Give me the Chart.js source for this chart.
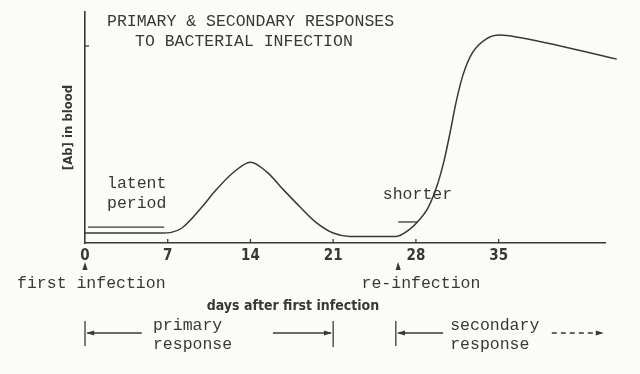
<!DOCTYPE html>
<html>
<head>
<meta charset="utf-8">
<script src="https://cdn.jsdelivr.net/npm/chart.js@4.4.1/dist/chart.umd.min.js"></script>
<style>
  html, body { margin: 0; padding: 0; background: #fbfbf7; }
  canvas { display: block; }
</style>
</head>
<body>
<canvas id="chart" width="640" height="374"></canvas>
<script>
// antibody level (0 = axis, 100 = top of the y axis)
var days  = [0, 6.5, 7.3, 8.2, 9.8, 11.1, 12.5, 14, 15.4, 16.8, 18.2, 19.6, 21, 22.4, 26.3, 27.5, 28.2, 29, 29.8, 30.4, 30.9, 31.4, 32, 32.8, 34, 35.1, 36.5, 45];
var level = [4.3, 4.3, 4.6, 6.5, 15, 23, 30.3, 35, 30.7, 23, 15.6, 8.7, 4.3, 2.8, 2.8, 6, 9.5, 15, 25, 36, 48, 61, 73, 82.5, 88.5, 90, 89.2, 79.6];
var dayTicks = [0, 7, 14, 21, 28, 35];
var levelTicks = [85.3];

var ink = '#383838';
var mono = '"Liberation Mono", "DejaVu Sans Mono", monospace';
var narrow = '"DejaVu Sans Condensed", "Liberation Sans Narrow", "Roboto", sans-serif';

// typed labels: left edge in days, vertical position in pixels
var notes = [
	{ text: 'PRIMARY & SECONDARY RESPONSES', day: 1.86, px: 22 },
	{ text: 'TO BACTERIAL INFECTION', day: 4.23, px: 42 },
	{ text: 'latent', day: 1.86, px: 184 },
	{ text: 'period', day: 1.86, px: 204 },
	{ text: 'shorter', day: 25.2, px: 195 },
	{ text: 'first infection', day: -5.75, px: 284 },
	{ text: 're-infection', day: 23.4, px: 284 },
	{ text: 'primary', day: 5.75, px: 326 },
	{ text: 'response', day: 5.75, px: 345 },
	{ text: 'secondary', day: 30.9, px: 326 },
	{ text: 'response', day: 30.9, px: 345 }
];

var annotate = {
	id: 'annotate',
	afterDraw: function(chart) {
		var c = chart.ctx;
		var xs = chart.scales.x, ys = chart.scales.y;
		var X = function(d) { return xs.getPixelForValue(d); };
		var Y = function(v) { return ys.getPixelForValue(v); };

		c.save();
		c.strokeStyle = ink;
		c.fillStyle = ink;
		c.lineWidth = 1.3;

		function seg(x1, y1, x2, y2) {
			c.beginPath(); c.moveTo(x1, y1); c.lineTo(x2, y2); c.stroke();
		}
		function head(x, y, dx, dy) {
			// filled narrow arrowhead, tip at x,y pointing along dx,dy
			var len = 8, w = 2.6;
			c.beginPath();
			c.moveTo(x, y);
			c.lineTo(x - dx * len - dy * w, y - dy * len - dx * w);
			c.lineTo(x - dx * len + dy * w, y - dy * len + dx * w);
			c.closePath(); c.fill();
		}

		// inward tick marks
		dayTicks.forEach(function(d) { if (d > 0) seg(X(d), Y(0), X(d), Y(0) - 4); });
		levelTicks.forEach(function(v) { seg(X(0), Y(v), X(0) + 4, Y(v)); });

		// latent period bar and the "shorter" dash
		seg(X(0.25), Y(6.9), X(6.7), Y(6.9));
		seg(X(26.5), Y(9.1), X(28.1), Y(9.1));

		// infection arrows
		[0, 26.5].forEach(function(d) {
			head(X(d), 262, 0, -1);
			seg(X(d), 266, X(d), 270);
		});

		// primary / secondary brackets
		seg(X(0), 321, X(0), 346);
		seg(X(4.8), 333, X(0.2), 333); head(X(0.1), 333, -1, 0);
		seg(X(15.9), 333, X(20.8), 333); head(X(20.9), 333, 1, 0);
		seg(X(21), 321, X(21), 347);
		seg(X(26.3), 321, X(26.3), 346);
		seg(X(30.3), 333, X(26.5), 333); head(X(26.4), 333, -1, 0);
		c.setLineDash([5, 4]);
		seg(X(39.5), 333, X(43.2), 333);
		c.setLineDash([]);
		head(X(43.9), 333, 1, 0);

		c.textBaseline = 'middle';
		c.textAlign = 'left';
		c.font = '16.5px ' + mono;
		notes.forEach(function(n) { c.fillText(n.text, X(n.day), n.px); });

		c.textAlign = 'center';
		c.font = 'bold 14px ' + narrow;
		c.fillText('days after first infection', X(17.6), 306);
		c.restore();
	}
};

new Chart(document.getElementById('chart'), {
	type: 'line',
	data: {
		datasets: [{
			data: days.map(function(d, i) { return { x: d, y: level[i] }; }),
			borderColor: ink,
			borderWidth: 1.5,
			pointRadius: 0,
			fill: false,
			cubicInterpolationMode: 'monotone',
			clip: false
		}]
	},
	options: {
		responsive: false,
		animation: false,
		layout: { padding: { left: 57, top: 12, right: 35, bottom: 101 } },
		plugins: {
			legend: { display: false },
			tooltip: { enabled: false }
		},
		scales: {
			x: {
				type: 'linear',
				min: 0,
				max: 44,
				afterBuildTicks: function(s) { s.ticks = dayTicks.map(function(v) { return { value: v }; }); },
				afterFit: function(s) { s.height = 30; },
				grid: { display: false, drawTicks: false },
				border: { color: ink, width: 1.6 },
				ticks: { color: ink, padding: 4, font: { family: narrow, size: 15, weight: 'bold' } }
			},
			y: {
				type: 'linear',
				min: 0,
				max: 100,
				afterFit: function(s) { s.width = 28; },
				grid: { display: false, drawTicks: false },
				border: { color: ink, width: 1.6 },
				ticks: { display: false },
				title: {
					display: true,
					text: '[Ab] in blood',
					color: ink,
					padding: { top: 4, bottom: 0 },
					font: { family: narrow, size: 13, weight: 'bold' }
				}
			}
		}
	},
	plugins: [annotate]
});
</script>
</body>
</html>
